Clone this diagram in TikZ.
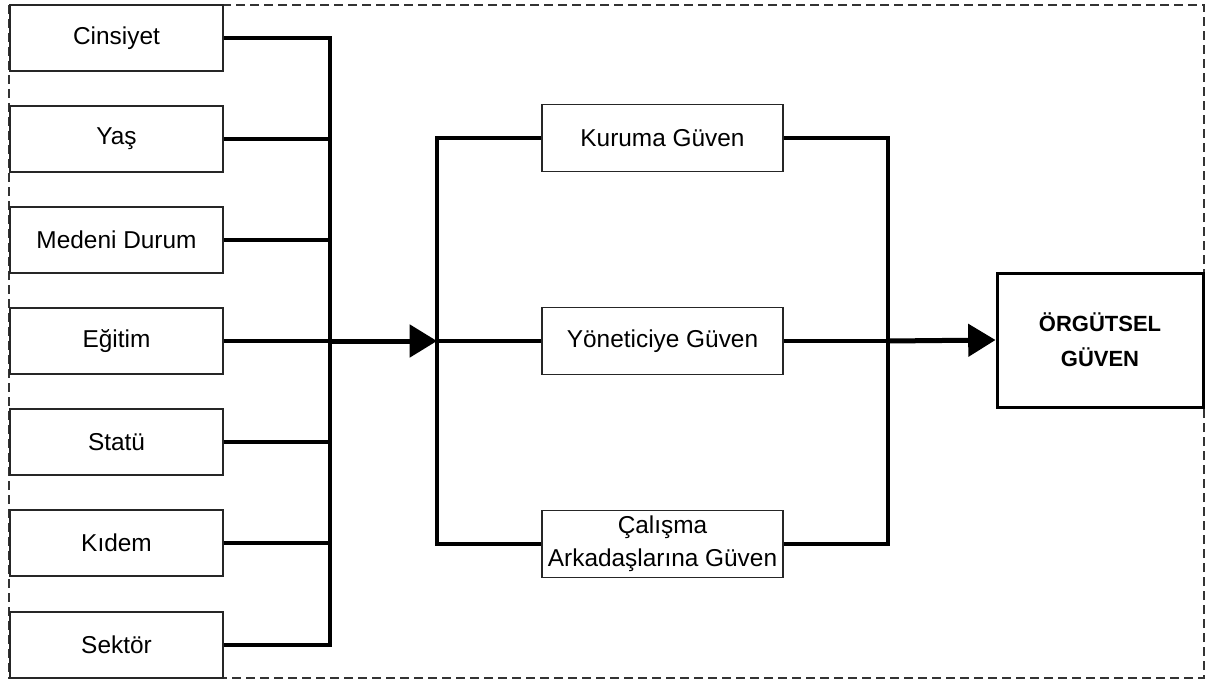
\documentclass[tikz,border=0pt]{standalone}
\usepackage{fontspec}
\setmainfont{Liberation Sans}
\usetikzlibrary{arrows.meta}
\begin{document}
\begin{tikzpicture}[x=0.75pt,y=-0.75pt,
  lbox/.style={draw=black!85,line width=1.1pt,minimum width=159.75pt,minimum height=49.5pt,
    inner sep=0pt,align=center,font=\fontsize{18.3}{25}\selectfont},
  mbox/.style={lbox,minimum width=180.75pt,minimum height=50pt},
  fbox/.style={draw,line width=2.25pt,minimum width=154.5pt,minimum height=100.5pt,
    inner sep=0pt,align=center,font=\fontsize{16.5}{26}\selectfont\bfseries},
  conn/.style={line width=2.4pt},
  bigarrow/.style={line width=3.75pt,-{Triangle[length=20.5pt,width=24pt]}},
  frame/.style={line width=1.1pt,dash pattern=on 6.75pt off 3.75pt,draw=black!80}]
\useasboundingbox (0,0) rectangle (1212,681);
% outer dashed frame
\draw[frame] (9,5) rectangle (1204,678);
% left column: demographic variables
\node[lbox] (cin) at (116.5,38)  {Cinsiyet};
\node[lbox] (yas) at (116.5,139) {Yaş};
\node[lbox] (med) at (116.5,240) {Medeni Durum};
\node[lbox] (egi) at (116.5,341) {Eğitim};
\node[lbox] (sta) at (116.5,442) {Statü};
\node[lbox] (kid) at (116.5,543) {Kıdem};
\node[lbox] (sek) at (116.5,645) {Sektör};
% middle column: trust dimensions
\node[mbox] (kur) at (662.5,138) {Kuruma Güven};
\node[mbox] (yon) at (662.5,341) {Yöneticiye Güven};
\node[mbox] (cal) at (662.5,544) {Çalışma\\Arkadaşlarına Güven};
% outcome
\node[fbox] (org) at (1100,340) {ÖRGÜTSEL\\GÜVEN};
% bus coordinates
\coordinate (busL) at (330,0);
\coordinate (busM) at (437,0);
\coordinate (busR) at (888,0);
% left bus
\draw[conn] (cin.east) -| (sek.east -| busL) -- (sek.east);
\foreach \n in {yas,med,egi,sta,kid}
  \draw[conn] (\n.east) -- (\n.east -| busL);
% arrow into middle bus
\draw[bigarrow] (egi.east -| busL) -- (egi.east -| busM);
% middle bus
\draw[conn] (kur.west) -| (cal.west -| busM) -- (cal.west);
\draw[conn] (yon.west -| busM) -- (yon.west);
% right bus
\draw[conn] (kur.east) -| (cal.east -| busR) -- (cal.east);
\draw[conn] (yon.east) -- (yon.east -| busR);
% arrow into outcome
\draw[bigarrow] (yon.east -| busR) -- (org.west);
\end{tikzpicture}
\end{document}
